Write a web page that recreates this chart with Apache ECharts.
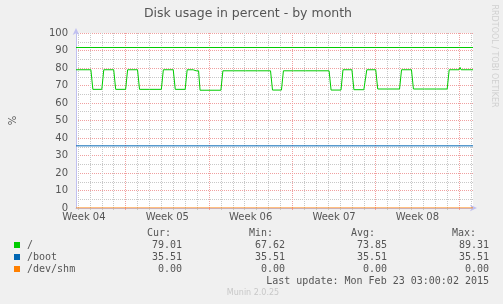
<!DOCTYPE html>
<html>
<head>
<meta charset="utf-8">
<script src="https://cdn.jsdelivr.net/npm/echarts@6/dist/echarts.min.js"></script>
<style>
html,body{margin:0;padding:0;background:#f0f0f0;}
#c{width:503px;height:304px;}
</style>
</head>
<body>
<div id="c"></div>
<script>
// ---- data (x in hours since Mon 19 Jan 2015 00:00, start of Week 04) ----
var rootTimes = [68,74,76,78,98,102,120,124,144,148,168,172,192,196,216,218,220,240,244,264,268,288,292,304,306,308,310,315,318,338,340,342,360,364,386,388,390,410,412,414,434,436,438,460,464,482,486,506,508,510,530,532,534,554,556,558,578,582,602,606,624,628,648,650,652,654,672,676,696,698,700,720,724,744,748,770,772,774,794,796,798,816,820,840,842,844,868];
var rootValues = [79.0,79.0,79.6,79.0,79.0,67.8,67.8,79.0,79.0,67.8,67.8,79.0,79.0,67.8,67.8,68.4,67.8,67.8,79.0,79.0,67.8,67.8,79.0,79.0,80.0,79.0,78.4,78.4,67.3,67.3,67.9,67.3,67.3,78.4,78.4,79.0,78.4,78.4,79.0,78.4,78.4,79.0,78.4,78.4,67.4,67.4,78.4,78.4,79.0,78.4,78.4,79.0,78.4,78.4,79.0,78.4,78.4,67.4,67.4,79.0,79.0,67.6,67.6,68.4,68.4,79.0,79.0,68.0,68.0,68.6,68.0,68.0,79.0,79.0,68.0,68.0,68.6,68.0,68.0,68.6,68.0,68.0,79.0,79.0,80.3,79.0,79.0];
var bootTimes = [68, 868];
var bootValues = [35.51, 35.51];
var shmTimes = [68, 868];
var shmValues = [0, 0];
var warningLevel = 92;

var xMin = 68, xMax = 868;
var dayHours = [72,96,120,144,192,216,240,264,288,312,360,384,408,432,456,480,528,552,576,600,624,648,696,720,744,768,792,816,864];
var weekStartHours = [168,336,504,672,840];
var weekMidHours = [84,252,420,588,756];
var weekLabels = ['Week 04','Week 05','Week 06','Week 07','Week 08'];

var seriesNames = ['/', '/boot', '/dev/shm'];
var seriesColors = ['#00cc00', '#0066b3', '#ff8000'];
var curVals = ['79.01','35.51','0.00'];
var minVals = ['67.62','35.51','0.00'];
var avgVals = ['73.85','35.51','0.00'];
var maxVals = ['89.31','35.51','0.00'];
var headers = ['Cur:','Min:','Avg:','Max:'];
var lastUpdate = 'Last update: Mon Feb 23 03:00:02 2015';

function zip(t, v){ return t.map(function(x,i){ return [x, v[i]]; }); }

var mono = '"DejaVu Sans Mono", monospace';
var sans = '"DejaVu Sans", sans-serif';
var textCol = '#555';

var graphics = [
  {type:'text', x:248, y:14, style:{text:'Disk usage in percent - by month', font:'12.5px ' + sans, fill:'#555', align:'center', verticalAlign:'middle'}},
  {type:'text', x:494, y:56, rotation:-Math.PI/2, style:{text:'RRDTOOL / TOBI OETIKER', font:'8px ' + sans, fill:'#d0d0d0', align:'center', verticalAlign:'middle'}},
  {type:'text', x:253, y:293, style:{text:'Munin 2.0.25', font:'8px ' + sans, fill:'#c8c8c8', align:'center', verticalAlign:'middle'}},
  {type:'text', x:489, y:281, style:{text:lastUpdate, font:'10px ' + mono, fill:textCol, align:'right', verticalAlign:'middle'}}
];
var headerX = [147, 249, 351, 452];
var valueX = [182, 285, 387, 489];
var rowY = [245, 257, 269];
headers.forEach(function(h,i){
  graphics.push({type:'text', x:headerX[i], y:233, style:{text:h, font:'10px ' + mono, fill:textCol, align:'left', verticalAlign:'middle'}});
});
[curVals, minVals, avgVals, maxVals].forEach(function(col, ci){
  col.forEach(function(v, ri){
    graphics.push({type:'text', x:valueX[ci], y:rowY[ri], style:{text:v, font:'10px ' + mono, fill:textCol, align:'right', verticalAlign:'middle'}});
  });
});

var gridMajor = '#f0a0a0';
var gridMinor = '#c8c8c8';
var axisCol = '#c0c0f0';

var option = {
  animation: false,
  backgroundColor: '#f0f0f0',
  grid: {left:73, top:33, width:400, height:175, show:true, backgroundColor:'#ffffff', borderWidth:0},
  legend: {
    orient:'vertical', left:14, top:239, padding:0, itemWidth:6, itemHeight:6, itemGap:0, icon:'rect',
    data: seriesNames,
    textStyle:{fontFamily:mono, fontSize:10, color:textCol, lineHeight:12, padding:[0,0,0,2]}
  },
  xAxis: [
    {
      type:'value', min:xMin, max:xMax, position:'bottom',
      axisLine:{show:true, lineStyle:{color:axisCol, width:1}, symbol:['none','arrow'], symbolSize:[5,7], symbolOffset:[0,4]},
      axisTick:{show:true, length:2, customValues: dayHours, lineStyle:{color:gridMinor}},
      axisLabel:{show:false},
      splitLine:{show:true, lineStyle:{color:gridMinor, type:[1,1], width:1}}
    },
    {
      type:'value', min:xMin, max:xMax, position:'bottom',
      axisLine:{show:false},
      axisTick:{show:true, length:2, customValues: weekStartHours, lineStyle:{color:gridMajor}},
      axisLabel:{show:true, customValues: weekMidHours, margin:4, fontFamily:sans, fontSize:10, color:textCol,
        formatter:function(v){ var i = weekMidHours.indexOf(v); return i >= 0 ? weekLabels[i] : ''; }},
      splitLine:{show:true, lineStyle:{color:gridMajor, type:[1,1], width:1}}
    }
  ],
  yAxis: {
    type:'value', min:0, max:100, interval:10,
    name:'%', nameLocation:'middle', nameGap:58, nameRotate:90,
    nameTextStyle:{fontFamily:sans, fontSize:10, color:textCol},
    axisLine:{show:true, lineStyle:{color:axisCol, width:1}, symbol:['none','arrow'], symbolSize:[5,7], symbolOffset:[0,5]},
    axisTick:{show:false},
    axisLabel:{fontFamily:sans, fontSize:10, color:textCol, margin:8},
    splitLine:{show:true, lineStyle:{color:gridMajor, type:[1,1], width:1}},
    minorTick:{show:false, splitNumber:2},
    minorSplitLine:{show:true, lineStyle:{color:gridMinor, type:[1,1], width:1}}
  },
  series: [
    {name:seriesNames[0], type:'line', xAxisIndex:0, data:zip(rootTimes, rootValues), showSymbol:false, symbol:'none',
     color:seriesColors[0], lineStyle:{width:1, color:seriesColors[0]},
     markLine:{silent:true, symbol:'none', label:{show:false}, lineStyle:{color:seriesColors[0], type:'solid', width:1}, data:[{yAxis:warningLevel}]}},
    {name:seriesNames[1], type:'line', xAxisIndex:0, data:zip(bootTimes, bootValues), showSymbol:false, symbol:'none',
     color:seriesColors[1], lineStyle:{width:1, color:seriesColors[1]}},
    {name:seriesNames[2], type:'line', xAxisIndex:0, data:zip(shmTimes, shmValues), showSymbol:false, symbol:'none',
     color:seriesColors[2], lineStyle:{width:1, color:seriesColors[2]}}
  ],
  graphic: graphics
};
var chart = echarts.init(document.getElementById('c'), null, {renderer:'canvas'});
chart.setOption(option);
</script>
</body>
</html>
